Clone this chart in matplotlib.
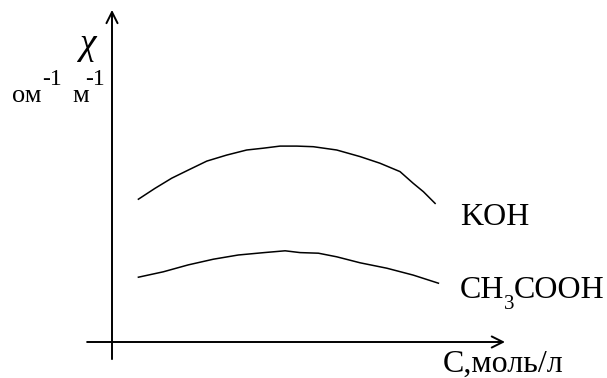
import matplotlib.pyplot as plt

plt.rcParams["font.family"] = ["Liberation Serif", "DejaVu Serif"]
plt.rcParams["mathtext.fontset"] = "custom"
plt.rcParams["mathtext.rm"] = "Liberation Serif"
plt.rcParams["mathtext.it"] = "Liberation Serif:italic"

# schematic curves, arbitrary units (C on x, conductivity on y)
c_koh = [0.88, 1.43, 1.99, 2.54, 3.16, 3.82, 4.49, 5.04, 5.6, 6.16,
         6.71, 7.49, 8.27, 8.93, 9.6, 10.04, 10.38, 10.77]
chi_koh = [4.76, 5.12, 5.46, 5.73, 6.03, 6.23, 6.40, 6.46, 6.53, 6.53,
           6.51, 6.40, 6.18, 5.96, 5.68, 5.29, 5.01, 4.62]

c_acid = [0.88, 1.71, 2.54, 3.38, 4.21, 5.07, 5.77, 6.27, 6.88, 7.49,
          8.27, 9.16, 10.04, 10.88]
chi_acid = [2.16, 2.34, 2.57, 2.76, 2.90, 2.98, 3.04, 2.98, 2.96, 2.84,
            2.64, 2.46, 2.23, 1.96]

fig = plt.figure(figsize=(6.07, 3.78), dpi=100)
ax = fig.add_axes([0, 0, 1, 1])
ax.set_xlim(-112 / 30, 495 / 30)
ax.set_ylim(-36 / 30, 342 / 30)
ax.axis("off")

arrow = dict(arrowstyle="->,head_length=0.4,head_width=0.2", color="black",
             lw=1.4, mutation_scale=20, shrinkA=0, shrinkB=0)
ax.annotate("", xy=(13.1, 0), xytext=(-0.83, 0), arrowprops=arrow)
ax.annotate("", xy=(0, 11.07), xytext=(0, -0.57), arrowprops=arrow)

ax.plot(c_koh, chi_koh, color="black", lw=1.1)
ax.plot(c_acid, chi_acid, color="black", lw=1.1)

ax.text(11.6, 3.9, "KOH", fontsize=23)
ax.text(11.6, 1.47, "CH", fontsize=23)
ax.text(13.08, 1.1, "3", fontsize=15)
ax.text(13.4, 1.47, "COOH", fontsize=23)
ax.text(11.03, -1.0, "С,моль/л", fontsize=23)

ax.text(-1.2, 9.6, r"$\chi$", fontsize=27)
ax.text(-3.33, 8.0, "ом", fontsize=19)
ax.text(-2.33, 8.57, "-1", fontsize=17)
ax.text(-1.33, 8.0, "м", fontsize=19)
ax.text(-0.9, 8.57, "-1", fontsize=17)

fig.savefig("out.png", dpi=100)
